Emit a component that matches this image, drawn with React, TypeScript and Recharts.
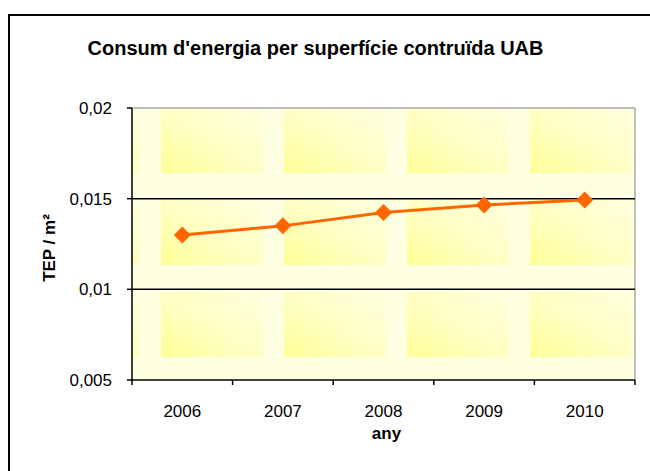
import React from 'react';
import {
  LineChart,
  Line,
  XAxis,
  YAxis,
  ReferenceLine,
  ReferenceArea,
} from 'recharts';

const years = [2006, 2007, 2008, 2009, 2010];
const tepPerM2 = [0.0130, 0.0135, 0.01424, 0.01465, 0.01492];
const yTicks = [0.005, 0.01, 0.015, 0.02];
const gridValues = [0.015, 0.01];

const chartData = years.map((year, i) => ({ year, value: tepPerM2[i] }));

// category boundaries (half years) carry the tick marks, whole years carry the labels
const xTicks = years.flatMap((y) => [y - 0.5, y]).concat(years[years.length - 1] + 0.5);

const FONT = '"Liberation Sans", Arial, sans-serif';
const ORANGE = '#FF6600';

const fmt = (v: number) => String(v).replace('.', ',');

function YearTick(props: any) {
  const { x, y, payload } = props;
  const v = payload.value;
  if (v % 1 !== 0) {
    return <line x1={x} y1={y} x2={x} y2={y + 5} stroke="#000" strokeWidth={1.5} />;
  }
  return (
    <text x={x} y={y + 37} textAnchor="middle" fontSize={17} fontFamily={FONT} fill="#000">
      {v}
    </text>
  );
}

function Diamond(props: any) {
  const { cx, cy, index } = props;
  const r = 8.5;
  return (
    <path
      key={`d-${index}`}
      d={`M${cx},${cy - r} L${cx + r},${cy} L${cx},${cy + r} L${cx - r},${cy} Z`}
      fill={ORANGE}
    />
  );
}

function YLabel(props: any) {
  const { viewBox } = props;
  const cx = viewBox.x + 55;
  const cy = viewBox.y + viewBox.height / 2 + 4;
  return (
    <text
      x={cx}
      y={cy}
      transform={`rotate(-90, ${cx}, ${cy})`}
      textAnchor="middle"
      fontSize={17}
      fontWeight="bold"
      fontFamily={FONT}
      fill="#000"
    >
      TEP / m²
    </text>
  );
}

function XLabel(props: any) {
  const { viewBox } = props;
  return (
    <text
      x={viewBox.x + viewBox.width / 2 + 3}
      y={viewBox.y + 59}
      textAnchor="middle"
      fontSize={17}
      fontWeight="bold"
      fontFamily={FONT}
      fill="#000"
    >
      any
    </text>
  );
}

export default function App() {
  return (
    <div
      style={{
        position: 'fixed',
        left: 0,
        top: 0,
        width: 650,
        height: 471,
        overflow: 'hidden',
        background: '#fff',
        fontFamily: FONT,
      }}
    >
      {/* chart frame, only left and top edges are in view */}
      <div
        style={{
          position: 'absolute',
          left: 8,
          top: 14,
          width: 700,
          height: 520,
          borderLeft: '2px solid #000',
          borderTop: '2px solid #000',
        }}
      />
      <div
        style={{
          position: 'absolute',
          left: 0,
          top: 38,
          width: 631,
          textAlign: 'center',
          fontSize: 20,
          lineHeight: '20px',
          fontWeight: 'bold',
          color: '#000',
        }}
      >
        Consum d'energia per superfície contruïda UAB
      </div>
      <div style={{ position: 'absolute', left: 0, top: 0 }}>
        <LineChart
          width={650}
          height={471}
          data={chartData}
          margin={{ top: 108, right: 15, bottom: 31, left: 0 }}
        >
          <defs>
            <linearGradient id="tileGrad" x1="0" y1="1" x2="1" y2="0">
              <stop offset="0%" stopColor="#FFFF96" />
              <stop offset="45%" stopColor="#FFFFC2" />
              <stop offset="100%" stopColor="#FFFFDF" />
            </linearGradient>
            <pattern id="texture" patternUnits="userSpaceOnUse" x={161} y={108} width={123} height={92}>
              <rect x={0} y={0} width={123} height={92} fill="#FFFFE2" />
              <rect x={0} y={0} width={102} height={65} fill="url(#tileGrad)" />
            </pattern>
          </defs>
          <XAxis
            dataKey="year"
            type="number"
            domain={[2005.5, 2010.5]}
            ticks={xTicks}
            interval={0}
            height={60}
            tickSize={0}
            tickMargin={0}
            tickLine={false}
            axisLine={{ stroke: '#000', strokeWidth: 1.5 }}
            tick={<YearTick />}
            label={<XLabel />}
          />
          <YAxis
            type="number"
            domain={[0.005, 0.02]}
            ticks={yTicks}
            interval={0}
            width={132}
            tickSize={5}
            tickMargin={15}
            tickFormatter={fmt}
            tick={{ fontSize: 17, fontFamily: FONT, fill: '#000' }}
            tickLine={{ stroke: '#000', strokeWidth: 1.5 }}
            axisLine={{ stroke: '#000', strokeWidth: 1.5 }}
            label={<YLabel />}
          />
          <ReferenceArea
            x1={2005.5}
            x2={2010.5}
            y1={0.005}
            y2={0.02}
            fill="url(#texture)"
            fillOpacity={1}
            stroke="none"
          />
          <ReferenceLine y={0.02} stroke="#A8A8A8" strokeWidth={1.5} />
          <ReferenceLine x={2010.5} stroke="#A8A8A8" strokeWidth={1.5} />
          {gridValues.map((g) => (
            <ReferenceLine key={g} y={g} stroke="#000" strokeWidth={1.5} />
          ))}
          <Line
            dataKey="value"
            stroke={ORANGE}
            strokeWidth={3}
            dot={Diamond}
            activeDot={false}
            isAnimationActive={false}
          />
        </LineChart>
      </div>
    </div>
  );
}
